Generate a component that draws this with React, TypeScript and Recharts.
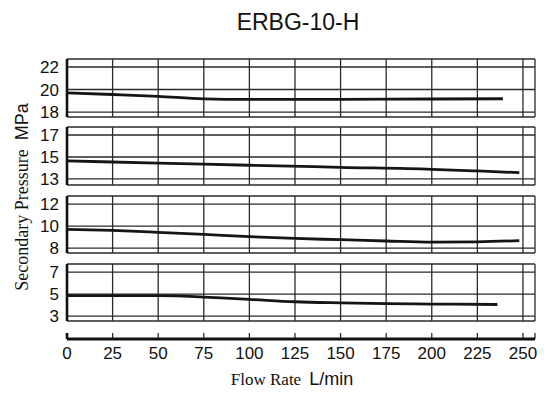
import { LineChart, Line, XAxis, YAxis, CartesianGrid } from 'recharts'

const SANS = '"Liberation Sans", Arial, sans-serif'
const SERIF = '"Liberation Serif", "Times New Roman", serif'

const flowTicks = [0, 25, 50, 75, 100, 125, 150, 175, 200, 225, 250]

// panel 1: ~19 MPa setting
const flow1 = [0, 25, 50, 75, 100, 150, 200, 239]
const pressure1 = [19.7, 19.56, 19.4, 19.17, 19.12, 19.13, 19.16, 19.18]
const ticks1 = [18, 20, 22]

// panel 2: ~14.5 MPa setting
const flow2 = [0, 50, 100, 150, 200, 225, 248]
const pressure2 = [14.64, 14.45, 14.25, 14.06, 13.88, 13.73, 13.57]
const ticks2 = [13, 15, 17]

// panel 3: ~9.7 MPa setting
const flow3 = [0, 25, 50, 75, 100, 125, 150, 175, 200, 225, 248]
const pressure3 = [9.7, 9.6, 9.43, 9.24, 9.03, 8.87, 8.76, 8.64, 8.54, 8.57, 8.67]
const ticks3 = [8, 10, 12]

// panel 4: ~5 MPa setting
const flow4 = [0, 25, 50, 60, 75, 100, 125, 150, 175, 200, 236]
const pressure4 = [4.86, 4.86, 4.86, 4.84, 4.72, 4.52, 4.3, 4.2, 4.13, 4.09, 4.05]
const ticks4 = [3, 5, 7]

const X_MAX = 256.6
const W = 544
const PAD = 12

function toRows(flow: number[], pressure: number[]) {
  return flow.map((f, i) => ({ flow: f, p: pressure[i] }))
}

interface PanelProps {
  top: number
  height: number
  flow: number[]
  pressure: number[]
  ticks: number[]
  domain: [number, number]
}

function Panel({ top, height, flow, pressure, ticks, domain }: PanelProps) {
  return (
    <div style={{ position: 'absolute', left: 0, top: top - PAD }}>
      <LineChart
        width={W}
        height={height + PAD * 2}
        data={toRows(flow, pressure)}
        margin={{ top: PAD, right: 9, bottom: PAD, left: 0 }}
      >
        <CartesianGrid stroke="#2a2a2a" strokeWidth={1.3} />
        <XAxis
          dataKey="flow"
          type="number"
          domain={[0, X_MAX]}
          ticks={flowTicks}
          hide
        />
        <YAxis
          type="number"
          domain={domain}
          ticks={ticks}
          width={67}
          tickLine={false}
          axisLine={{ stroke: '#111', strokeWidth: 2.6 }}
          tick={{ fill: '#111', fontSize: 17, fontFamily: SANS }}
          interval={0}
        />
        <Line
          type="monotone"
          dataKey="p"
          stroke="#151515"
          strokeWidth={2.8}
          dot={false}
          isAnimationActive={false}
        />
      </LineChart>
    </div>
  )
}

export default function App() {
  const axisRows = flowTicks.map((f) => ({ flow: f }))
  return (
    <div
      style={{
        position: 'absolute',
        left: 0,
        top: 0,
        width: W,
        height: 396,
        background: '#fff',
      }}
    >
      <Panel top={59} height={58} flow={flow1} pressure={pressure1} ticks={ticks1} domain={[17.56, 22.71]} />
      <Panel top={127} height={58} flow={flow2} pressure={pressure2} ticks={ticks2} domain={[12.45, 17.73]} />
      <Panel top={196} height={57} flow={flow3} pressure={pressure3} ticks={ticks3} domain={[7.55, 12.73]} />
      <Panel top={264} height={57} flow={flow4} pressure={pressure4} ticks={ticks4} domain={[2.55, 7.73]} />

      {/* shared flow axis */}
      <div style={{ position: 'absolute', left: 0, top: 333 }}>
        <LineChart
          width={W}
          height={40}
          data={axisRows}
          margin={{ top: 0, right: 9, bottom: 0, left: 0 }}
        >
          <CartesianGrid horizontal={false} stroke="#2a2a2a" strokeWidth={1.3} />
          <XAxis
            dataKey="flow"
            type="number"
            domain={[0, X_MAX]}
            ticks={flowTicks}
            height={34}
            interval={0}
            tickLine={false}
            axisLine={{ stroke: '#111', strokeWidth: 3 }}
            tick={{ fill: '#111', fontSize: 17, fontFamily: SANS }}
          />
          <YAxis
            type="number"
            domain={[0, 1]}
            width={67}
            tick={false}
            tickLine={false}
            axisLine={{ stroke: '#111', strokeWidth: 2.6 }}
          />
        </LineChart>
      </div>

      <svg
        width={W}
        height={396}
        style={{ position: 'absolute', left: 0, top: 0, pointerEvents: 'none' }}
      >
        <text x={298} y={30} textAnchor="middle" fontSize={23} fontFamily={SANS} fill="#111">
          ERBG-10-H
        </text>
        <text transform="translate(28,197) rotate(-90)" textAnchor="middle" fill="#111">
          <tspan fontFamily={SERIF} fontSize={18}>Secondary Pressure</tspan>
          <tspan dx={9} fontFamily={SANS} fontSize={18}>MPa</tspan>
        </text>
        <text x={292} y={385} textAnchor="middle" fill="#111">
          <tspan fontFamily={SERIF} fontSize={17}>Flow Rate</tspan>
          <tspan dx={8} fontFamily={SANS} fontSize={18}>L/min</tspan>
        </text>
      </svg>
    </div>
  )
}
